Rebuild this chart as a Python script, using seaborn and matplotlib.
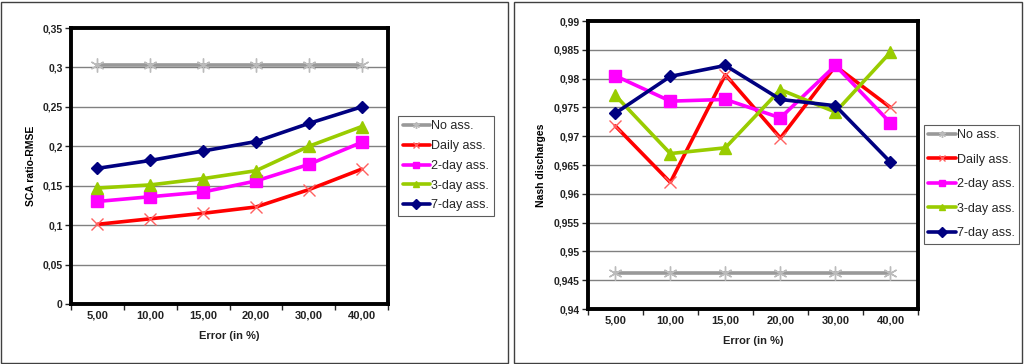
import seaborn as sns
import pandas as pd
import matplotlib.pyplot as plt
from matplotlib.patches import Rectangle
from matplotlib.ticker import FuncFormatter, FixedLocator

errors = ['5,00', '10,00', '15,00', '20,00', '30,00', '40,00']
series = ['No ass.', 'Daily ass.', '2-day ass.', '3-day ass.', '7-day ass.']

sca_no = [0.303, 0.303, 0.303, 0.303, 0.303, 0.303]
sca_daily = [0.101, 0.108, 0.115, 0.123, 0.145, 0.171]
sca_2day = [0.130, 0.136, 0.142, 0.156, 0.177, 0.205]
sca_3day = [0.147, 0.151, 0.159, 0.169, 0.200, 0.225]
sca_7day = [0.172, 0.182, 0.194, 0.206, 0.229, 0.250]

nash_no = [0.9463, 0.9463, 0.9463, 0.9463, 0.9463, 0.9463]
nash_daily = [0.9718, 0.9620, 0.9807, 0.9697, 0.9822, 0.9750]
nash_2day = [0.9805, 0.9761, 0.9764, 0.9732, 0.9823, 0.9723]
nash_3day = [0.9771, 0.9670, 0.9680, 0.9781, 0.9742, 0.9846]
nash_7day = [0.9740, 0.9804, 0.9823, 0.9764, 0.9753, 0.9655]

colors = ['#999999', '#ff0000', '#ff00ff', '#99cc00', '#000080']
marker_colors = ['#bbbbbb', '#ff6060', '#ff00ff', '#99cc00', '#000080']
markers = [(6, 2, 0), 'x', 's', '^', 'D']
msizes = [10, 9, 9, 9, 6]

sns.set_style('white')
plt.rcParams['font.family'] = ['Liberation Sans', 'DejaVu Sans']


def comma_fmt(v, pos):
    s = ('%.3f' % v).rstrip('0').rstrip('.')
    return s.replace('.', ',')


def draw_panel(ax, values, ticks, ylabel, legend_anchor, spacing):
    x = list(range(len(errors)))
    for i, name in enumerate(series):
        sns.lineplot(x=x, y=values[i], ax=ax, color=colors[i], lw=2.6,
                     marker=markers[i], markersize=msizes[i],
                     markerfacecolor=marker_colors[i],
                     markeredgecolor=marker_colors[i], markeredgewidth=1.0,
                     label=name, legend=False, zorder=3 + i)
    ax.set_xlim(-0.5, len(errors) - 0.5)
    ax.set_ylim(ticks[0], ticks[-1])
    ax.yaxis.set_major_locator(FixedLocator(ticks))
    ax.yaxis.set_major_formatter(FuncFormatter(comma_fmt))
    ax.set_xticks(x)
    ax.set_xticklabels(errors)
    ax.set_xticks([v - 0.5 for v in range(len(errors) + 1)], minor=True)
    ax.tick_params(axis='x', which='major', length=0, pad=5, labelsize=8)
    ax.tick_params(axis='x', which='minor', length=4, width=1, direction='out', bottom=True)
    ax.tick_params(axis='y', length=4, width=1, direction='out', left=True, labelsize=7.5, pad=2)
    for lab in ax.get_xticklabels() + ax.get_yticklabels():
        lab.set_fontweight('bold')
        lab.set_color('#222222')
    ax.grid(axis='y', color='#808080', lw=1)
    ax.set_axisbelow(True)
    for sp in ax.spines.values():
        sp.set_linewidth(2.8)
        sp.set_color('black')
    ax.set_xlabel('Error (in %)', fontsize=8, fontweight='bold', color='#222222', labelpad=7)
    ax.set_ylabel(ylabel, fontsize=7.5, fontweight='bold', color='black', labelpad=5)
    handles, labels = ax.get_legend_handles_labels()
    leg = ax.legend(handles, labels, loc='upper left', bbox_to_anchor=legend_anchor,
                    bbox_transform=fig.transFigure, frameon=True, fancybox=False,
                    edgecolor='#333333', fontsize=9, handlelength=2.2,
                    handletextpad=0.1, borderpad=0.35, labelspacing=spacing,
                    borderaxespad=0)
    leg.get_frame().set_linewidth(0.8)
    for h in leg.legend_handles:
        h.set_markersize(5)


fig = plt.figure(figsize=(10.24, 3.64), dpi=100)
fig.patches.append(Rectangle((1 / 1024, 1 / 364), 507 / 1024, 361 / 364,
                             transform=fig.transFigure, fill=False,
                             edgecolor='#404040', lw=1))
fig.patches.append(Rectangle((514 / 1024, 1 / 364), 508 / 1024, 361 / 364,
                             transform=fig.transFigure, fill=False,
                             edgecolor='#404040', lw=1))

ax1 = fig.add_axes([0.0693, 0.165, 0.3097, 0.758])
ax2 = fig.add_axes([0.574, 0.151, 0.3225, 0.791])

draw_panel(ax1, [sca_no, sca_daily, sca_2day, sca_3day, sca_7day],
           [0, 0.05, 0.1, 0.15, 0.2, 0.25, 0.3, 0.35],
           'SCA ratio-RMSE', (0.389, 0.681), 0.62)
draw_panel(ax2, [nash_no, nash_daily, nash_2day, nash_3day, nash_7day],
           [0.94, 0.945, 0.95, 0.955, 0.96, 0.965, 0.97, 0.975, 0.98, 0.985, 0.99],
           'Nash discharges', (0.902, 0.657), 1.0)

plt.savefig('out.png', dpi=100)
